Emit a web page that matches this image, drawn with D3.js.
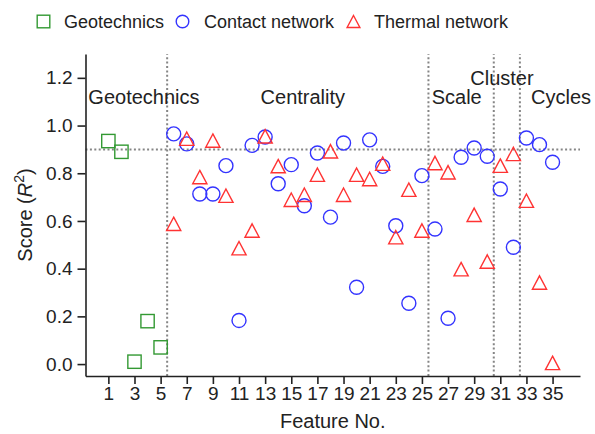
<!DOCTYPE html>
<html>
<head>
<meta charset="utf-8">
<script src="https://cdn.jsdelivr.net/npm/d3@7"></script>
<style>
  html, body { margin: 0; padding: 0; background: #fff; }
  svg { display: block; font-family: "Liberation Sans", Arial, sans-serif; }
</style>
</head>
<body>
<svg id="chart" width="595" height="434"></svg>
<script>
// ---- data ----
const geoFeatures = [1, 2, 3, 4, 5];
const geoValues = [0.935, 0.89, 0.01, 0.18, 0.07];

const netFeatures = d3.range(6, 36);
const contactValues = [0.965, 0.923, 0.713, 0.713, 0.832, 0.183, 0.917, 0.952, 0.756, 0.836,
  0.664, 0.885, 0.616, 0.927, 0.322, 0.94, 0.829, 0.58, 0.255, 0.79,
  0.566, 0.192, 0.867, 0.906, 0.871, 0.734, 0.49, 0.948, 0.92, 0.846];
const thermalValues = [0.588, 0.945, 0.784, 0.937, 0.706, 0.486, 0.56, 0.955, 0.83, 0.689,
  0.71, 0.794, 0.892, 0.71, 0.794, 0.776, 0.84, 0.532, 0.731, 0.56,
  0.843, 0.804, 0.398, 0.626, 0.43, 0.832, 0.881, 0.685, 0.342, 0.005];

const xTicks = d3.range(1, 36, 2);
const yTicks = [0.0, 0.2, 0.4, 0.6, 0.8, 1.0, 1.2];
const groupBoundaries = [5.5, 25.5, 30.5, 32.5];
const threshold = 0.9;
const groupNames = ["Geotechnics", "Centrality", "Scale", "Cluster", "Cycles"];
const groupLabelX = [-0.53, 12.65, 25.75, 28.7, 33.35];
const groupLabelY = [1.092, 1.092, 1.092, 1.168, 1.092];
const legendNames = ["Geotechnics", "Contact network", "Thermal network"];

// ---- layout ----
const svg = d3.select("#chart");
const pL = 85.5, pR = 580, pT = 54, pB = 376;
const x = d3.scaleLinear().domain([-0.75, 37.1]).range([pL, pR]);
const y = d3.scaleLinear().domain([-0.05, 1.3]).range([pB, pT]);

const green = "#339933", blue = "#3333ff", red = "#ff3333";
const dotGray = "#858585";

// reference lines
svg.append("g").selectAll("line").data(groupBoundaries).join("line")
  .attr("x1", d => x(d)).attr("x2", d => x(d))
  .attr("y1", pB).attr("y2", pT)
  .attr("stroke", dotGray).attr("stroke-width", 2)
  .attr("stroke-dasharray", "2,2.4");
svg.append("line")
  .attr("x1", pL).attr("x2", pR)
  .attr("y1", y(threshold)).attr("y2", y(threshold))
  .attr("stroke", dotGray).attr("stroke-width", 2)
  .attr("stroke-dasharray", "2,2.4");

// axes
const xAxis = svg.append("g").attr("transform", `translate(0,${pB})`)
  .call(d3.axisBottom(x).tickValues(xTicks).tickFormat(d3.format("d")).tickSize(8).tickPadding(3).tickSizeOuter(0));
const yAxis = svg.append("g").attr("transform", `translate(${pL},0)`)
  .call(d3.axisLeft(y).tickValues(yTicks).tickFormat(d3.format(".1f")).tickSize(8).tickPadding(5).tickSizeOuter(0));
[xAxis, yAxis].forEach(a => {
  a.select(".domain").attr("stroke", "#222").attr("stroke-width", 1.6);
  a.selectAll(".tick line").attr("stroke", "#222").attr("stroke-width", 1.6);
  a.selectAll(".tick text").attr("fill", "#222").style("font-size", "19px")
    .style("font-family", "'Liberation Sans', Arial, sans-serif");
});

// axis titles
svg.append("text").attr("x", (pL + pR) / 2).attr("y", 428)
  .attr("text-anchor", "middle").attr("fill", "#222").style("font-size", "20px")
  .text("Feature No.");
const yl = svg.append("text")
  .attr("transform", `translate(32,${(pT + pB) / 2}) rotate(-90)`)
  .attr("text-anchor", "middle").attr("fill", "#222").style("font-size", "20px");
yl.append("tspan").text("Score (");
yl.append("tspan").attr("font-style", "italic").text("R");
yl.append("tspan").attr("dy", -8).style("font-size", "14px").text("2");
yl.append("tspan").attr("dy", 8).text(")");

// group labels
svg.append("g").selectAll("text").data(groupNames).join("text")
  .attr("x", (d, i) => x(groupLabelX[i])).attr("y", (d, i) => y(groupLabelY[i]))
  .attr("fill", "#222").style("font-size", "20px").text(d => d);

// markers
const sq = 13.3, rad = 7, tw = 7.1, th = 6.7;
const triPath = (w, h) => `M0,${-h}L${w},${h}L${-w},${h}Z`;

svg.append("g").selectAll("rect").data(geoFeatures).join("rect")
  .attr("x", (d) => x(d) - sq / 2).attr("y", (d, i) => y(geoValues[i]) - sq / 2)
  .attr("width", sq).attr("height", sq)
  .attr("fill", "none").attr("stroke", green).attr("stroke-width", 1.4);

svg.append("g").selectAll("circle").data(netFeatures).join("circle")
  .attr("cx", d => x(d)).attr("cy", (d, i) => y(contactValues[i])).attr("r", rad)
  .attr("fill", "none").attr("stroke", blue).attr("stroke-width", 1.4);

svg.append("g").selectAll("path").data(netFeatures).join("path")
  .attr("d", triPath(tw, th))
  .attr("transform", (d, i) => `translate(${x(d)},${y(thermalValues[i])})`)
  .attr("fill", "none").attr("stroke", red).attr("stroke-width", 1.4);

// legend
const legX = [43.5, 182.5, 353.5];
const legTextX = [64, 204, 374];
const legY = 21.5;
const lg = svg.append("g");
lg.append("rect").attr("x", legX[0] - 6.3).attr("y", legY - 6.3).attr("width", 12.6).attr("height", 12.6)
  .attr("fill", "none").attr("stroke", green).attr("stroke-width", 1.4);
lg.append("circle").attr("cx", legX[1]).attr("cy", legY).attr("r", 6.3)
  .attr("fill", "none").attr("stroke", blue).attr("stroke-width", 1.4);
lg.append("path").attr("d", triPath(6.4, 6)).attr("transform", `translate(${legX[2]},${legY})`)
  .attr("fill", "none").attr("stroke", red).attr("stroke-width", 1.4);
lg.selectAll("text").data(legendNames).join("text")
  .attr("x", (d, i) => legTextX[i]).attr("y", 27.5)
  .attr("fill", "#222").style("font-size", "18px").text(d => d);
</script>
</body>
</html>
